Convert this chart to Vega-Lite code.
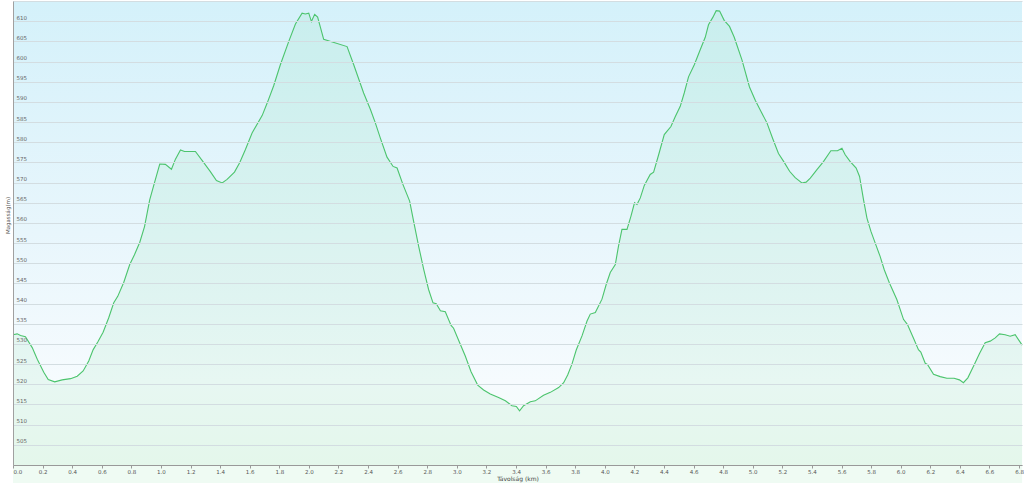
{
  "$schema": "https://vega.github.io/schema/vega-lite/v6.json",
  "width": 1009,
  "height": 464,
  "autosize": {"type": "none"},
  "padding": {"left": 13, "top": 1, "right": 2, "bottom": 18},
  "background": "#ffffff",
  "config": {"view": {"stroke": null}, "font": "DejaVu Sans"},
  "datasets": {
    "profile": [
      {"d": 0.0, "e": 532.3}, {"d": 0.028, "e": 532.5}, {"d": 0.051, "e": 532.1}, {"d": 0.084, "e": 531.8},
      {"d": 0.13, "e": 529.1}, {"d": 0.164, "e": 526.2}, {"d": 0.208, "e": 523.0}, {"d": 0.238, "e": 521.2},
      {"d": 0.282, "e": 520.6}, {"d": 0.332, "e": 521.1}, {"d": 0.389, "e": 521.4}, {"d": 0.434, "e": 522.0},
      {"d": 0.474, "e": 523.3}, {"d": 0.512, "e": 525.8}, {"d": 0.542, "e": 528.6}, {"d": 0.573, "e": 530.5},
      {"d": 0.609, "e": 532.9}, {"d": 0.647, "e": 536.5}, {"d": 0.681, "e": 540.2}, {"d": 0.708, "e": 541.8},
      {"d": 0.749, "e": 545.3}, {"d": 0.789, "e": 549.7}, {"d": 0.821, "e": 552.1}, {"d": 0.857, "e": 555.2},
      {"d": 0.889, "e": 559.1}, {"d": 0.924, "e": 565.7}, {"d": 0.956, "e": 569.9}, {"d": 0.992, "e": 574.6},
      {"d": 1.03, "e": 574.5}, {"d": 1.071, "e": 573.3}, {"d": 1.098, "e": 575.8}, {"d": 1.132, "e": 578.1},
      {"d": 1.159, "e": 577.7}, {"d": 1.233, "e": 577.7}, {"d": 1.278, "e": 575.5}, {"d": 1.334, "e": 572.7},
      {"d": 1.375, "e": 570.5}, {"d": 1.414, "e": 569.9}, {"d": 1.447, "e": 570.8}, {"d": 1.497, "e": 572.6},
      {"d": 1.532, "e": 574.9}, {"d": 1.571, "e": 578.2}, {"d": 1.616, "e": 582.3}, {"d": 1.684, "e": 586.6},
      {"d": 1.718, "e": 589.7}, {"d": 1.762, "e": 594.0}, {"d": 1.807, "e": 599.2}, {"d": 1.864, "e": 605.0},
      {"d": 1.909, "e": 609.3}, {"d": 1.954, "e": 612.0}, {"d": 1.976, "e": 611.8}, {"d": 1.999, "e": 612.0},
      {"d": 2.017, "e": 609.9}, {"d": 2.039, "e": 611.7}, {"d": 2.059, "e": 611.0}, {"d": 2.1, "e": 605.5},
      {"d": 2.258, "e": 603.7}, {"d": 2.303, "e": 599.2}, {"d": 2.37, "e": 592.2}, {"d": 2.416, "e": 588.1},
      {"d": 2.449, "e": 584.8}, {"d": 2.483, "e": 581.0}, {"d": 2.528, "e": 576.3}, {"d": 2.569, "e": 574.0},
      {"d": 2.596, "e": 573.6}, {"d": 2.636, "e": 569.5}, {"d": 2.681, "e": 565.4}, {"d": 2.708, "e": 560.4},
      {"d": 2.742, "e": 554.2}, {"d": 2.776, "e": 548.5}, {"d": 2.809, "e": 543.5}, {"d": 2.839, "e": 540.2},
      {"d": 2.861, "e": 540.0}, {"d": 2.889, "e": 538.2}, {"d": 2.922, "e": 538.0}, {"d": 2.961, "e": 534.6},
      {"d": 2.978, "e": 533.9}, {"d": 3.019, "e": 530.3}, {"d": 3.057, "e": 527.0}, {"d": 3.096, "e": 523.1},
      {"d": 3.141, "e": 519.8}, {"d": 3.181, "e": 518.6}, {"d": 3.226, "e": 517.6}, {"d": 3.282, "e": 516.7},
      {"d": 3.328, "e": 515.9}, {"d": 3.373, "e": 514.7}, {"d": 3.402, "e": 514.5}, {"d": 3.424, "e": 513.4},
      {"d": 3.451, "e": 514.7}, {"d": 3.497, "e": 515.7}, {"d": 3.53, "e": 515.9}, {"d": 3.586, "e": 517.3},
      {"d": 3.632, "e": 518.0}, {"d": 3.688, "e": 519.2}, {"d": 3.722, "e": 520.4}, {"d": 3.749, "e": 522.3},
      {"d": 3.778, "e": 525.0}, {"d": 3.807, "e": 528.5}, {"d": 3.846, "e": 532.0}, {"d": 3.88, "e": 535.7},
      {"d": 3.902, "e": 537.4}, {"d": 3.936, "e": 537.8}, {"d": 3.981, "e": 541.1}, {"d": 4.01, "e": 544.8},
      {"d": 4.037, "e": 547.7}, {"d": 4.071, "e": 549.7}, {"d": 4.093, "e": 554.3}, {"d": 4.116, "e": 558.4},
      {"d": 4.15, "e": 558.4}, {"d": 4.177, "e": 561.7}, {"d": 4.201, "e": 565.0}, {"d": 4.218, "e": 564.6},
      {"d": 4.24, "e": 566.2}, {"d": 4.267, "e": 569.3}, {"d": 4.307, "e": 572.0}, {"d": 4.33, "e": 572.6},
      {"d": 4.364, "e": 576.9}, {"d": 4.402, "e": 581.9}, {"d": 4.447, "e": 583.9}, {"d": 4.476, "e": 586.3},
      {"d": 4.51, "e": 588.9}, {"d": 4.537, "e": 592.2}, {"d": 4.566, "e": 596.2}, {"d": 4.605, "e": 599.2},
      {"d": 4.645, "e": 602.9}, {"d": 4.679, "e": 606.0}, {"d": 4.701, "e": 609.1}, {"d": 4.731, "e": 611.0},
      {"d": 4.753, "e": 612.6}, {"d": 4.776, "e": 612.5}, {"d": 4.807, "e": 610.2}, {"d": 4.843, "e": 608.7},
      {"d": 4.875, "e": 606.0}, {"d": 4.927, "e": 600.4}, {"d": 4.978, "e": 593.7}, {"d": 5.017, "e": 590.4},
      {"d": 5.055, "e": 587.7}, {"d": 5.096, "e": 584.8}, {"d": 5.136, "e": 580.8}, {"d": 5.174, "e": 577.2},
      {"d": 5.213, "e": 575.0}, {"d": 5.249, "e": 572.8}, {"d": 5.287, "e": 571.2}, {"d": 5.332, "e": 569.9},
      {"d": 5.361, "e": 570.1}, {"d": 5.389, "e": 571.1}, {"d": 5.434, "e": 573.2}, {"d": 5.478, "e": 575.2},
      {"d": 5.528, "e": 577.9}, {"d": 5.573, "e": 577.9}, {"d": 5.603, "e": 578.5}, {"d": 5.625, "e": 576.9},
      {"d": 5.659, "e": 575.2}, {"d": 5.699, "e": 573.6}, {"d": 5.722, "e": 571.5}, {"d": 5.749, "e": 565.7},
      {"d": 5.772, "e": 561.2}, {"d": 5.799, "e": 557.9}, {"d": 5.828, "e": 555.0}, {"d": 5.861, "e": 551.7},
      {"d": 5.889, "e": 548.4}, {"d": 5.924, "e": 545.1}, {"d": 5.974, "e": 541.0}, {"d": 6.019, "e": 536.1},
      {"d": 6.046, "e": 534.8}, {"d": 6.086, "e": 531.5}, {"d": 6.12, "e": 528.6}, {"d": 6.136, "e": 528.0},
      {"d": 6.166, "e": 525.2}, {"d": 6.181, "e": 524.9}, {"d": 6.222, "e": 522.5}, {"d": 6.267, "e": 521.9},
      {"d": 6.312, "e": 521.5}, {"d": 6.361, "e": 521.5}, {"d": 6.397, "e": 521.1}, {"d": 6.424, "e": 520.4},
      {"d": 6.454, "e": 521.6}, {"d": 6.492, "e": 524.5}, {"d": 6.532, "e": 527.6}, {"d": 6.571, "e": 530.3},
      {"d": 6.605, "e": 530.7}, {"d": 6.639, "e": 531.5}, {"d": 6.668, "e": 532.5}, {"d": 6.706, "e": 532.3},
      {"d": 6.74, "e": 531.9}, {"d": 6.774, "e": 532.3}, {"d": 6.821, "e": 529.7}
    ]
  },
  "layer": [
    {
      "data": {"values": [{}]},
      "mark": {
        "type": "rect",
        "color": {
          "gradient": "linear", "x1": 0, "y1": 0, "x2": 0, "y2": 1,
          "stops": [
            {"offset": 0, "color": "#d4f1fa"},
            {"offset": 0.5, "color": "#e8f6fc"},
            {"offset": 0.82, "color": "#f6fbfe"},
            {"offset": 1, "color": "#f3fbf7"}
          ]
        }
      },
      "encoding": {
        "x": {
          "datum": 0, "type": "quantitative",
          "scale": {"domain": [0, 6.82], "nice": false, "zero": false},
          "axis": {
            "values": [0,0.2,0.4,0.6,0.8,1,1.2,1.4,1.6,1.8,2,2.2,2.4,2.6,2.8,3,3.2,3.4,3.6,3.8,4,4.2,4.4,4.6,4.8,5,5.2,5.4,5.6,5.8,6,6.2,6.4,6.6,6.8],
            "format": ".1f", "grid": false, "tickSize": 3, "tickColor": "#999999", "domainColor": "#999999",
            "labelFontSize": 5.5, "labelPadding": 1, "labelColor": "#555555", "labelOverlap": false,
            "title": "Távolság (km)", "titleFontSize": 6, "titleFontWeight": "normal", "titleColor": "#444444",
            "titlePadding": 1, "zindex": 1
          }
        },
        "x2": {"datum": 6.82},
        "y": {
          "datum": 500, "type": "quantitative",
          "scale": {"domain": [500, 615], "nice": false, "zero": false},
          "axis": {
            "values": [500,505,510,515,520,525,530,535,540,545,550,555,560,565,570,575,580,585,590,595,600,605,610,615],
            "labelExpr": "datum.value == 500 || datum.value == 615 ? '' : datum.label",
            "grid": true, "gridColor": "#d3dde1", "gridWidth": 1, "domainColor": "#a0a0a0", "tickSize": 0,
            "labelAlign": "left", "labelBaseline": "bottom", "labelPadding": -3, "labelOffset": -1,
            "labelFontSize": 5.5, "labelColor": "#666666", "labelOverlap": false,
            "title": "Magasság(m)", "titleFontSize": 5.5, "titleFontWeight": "normal", "titleColor": "#555555",
            "titleX": -3, "titleY": 214, "zindex": 1
          }
        },
        "y2": {"datum": 615}
      }
    },
    {
      "data": {"name": "profile"},
      "mark": {"type": "area", "opacity": 0.1, "color": "#5ed68c"},
      "encoding": {
        "x": {
          "field": "d", "type": "quantitative",
          "scale": {"domain": [0, 6.82], "nice": false, "zero": false},
          "axis": {
            "values": [0,0.2,0.4,0.6,0.8,1,1.2,1.4,1.6,1.8,2,2.2,2.4,2.6,2.8,3,3.2,3.4,3.6,3.8,4,4.2,4.4,4.6,4.8,5,5.2,5.4,5.6,5.8,6,6.2,6.4,6.6,6.8],
            "format": ".1f", "grid": false, "tickSize": 3, "tickColor": "#999999", "domainColor": "#999999",
            "labelFontSize": 5.5, "labelPadding": 1, "labelColor": "#555555", "labelOverlap": false,
            "title": "Távolság (km)", "titleFontSize": 6, "titleFontWeight": "normal", "titleColor": "#444444",
            "titlePadding": 1, "zindex": 1
          }
        },
        "y": {
          "field": "e", "type": "quantitative",
          "scale": {"domain": [500, 615], "nice": false, "zero": false},
          "axis": {
            "values": [500,505,510,515,520,525,530,535,540,545,550,555,560,565,570,575,580,585,590,595,600,605,610,615],
            "labelExpr": "datum.value == 500 || datum.value == 615 ? '' : datum.label",
            "grid": true, "gridColor": "#d3dde1", "gridWidth": 1, "domainColor": "#a0a0a0", "tickSize": 0,
            "labelAlign": "left", "labelBaseline": "bottom", "labelPadding": -3, "labelOffset": -1,
            "labelFontSize": 5.5, "labelColor": "#666666", "labelOverlap": false,
            "title": "Magasság(m)", "titleFontSize": 5.5, "titleFontWeight": "normal", "titleColor": "#555555",
            "titleX": -3, "titleY": 214, "zindex": 1
          }
        }
      }
    },
    {
      "data": {"name": "profile"},
      "mark": {"type": "line", "color": "#4cc46d", "strokeWidth": 1.1},
      "encoding": {
        "x": {
          "field": "d", "type": "quantitative",
          "scale": {"domain": [0, 6.82], "nice": false, "zero": false},
          "axis": {
            "values": [0,0.2,0.4,0.6,0.8,1,1.2,1.4,1.6,1.8,2,2.2,2.4,2.6,2.8,3,3.2,3.4,3.6,3.8,4,4.2,4.4,4.6,4.8,5,5.2,5.4,5.6,5.8,6,6.2,6.4,6.6,6.8],
            "format": ".1f", "grid": false, "tickSize": 3, "tickColor": "#999999", "domainColor": "#999999",
            "labelFontSize": 5.5, "labelPadding": 1, "labelColor": "#555555", "labelOverlap": false,
            "title": "Távolság (km)", "titleFontSize": 6, "titleFontWeight": "normal", "titleColor": "#444444",
            "titlePadding": 1, "zindex": 1
          }
        },
        "y": {
          "field": "e", "type": "quantitative",
          "scale": {"domain": [500, 615], "nice": false, "zero": false},
          "axis": {
            "values": [500,505,510,515,520,525,530,535,540,545,550,555,560,565,570,575,580,585,590,595,600,605,610,615],
            "labelExpr": "datum.value == 500 || datum.value == 615 ? '' : datum.label",
            "grid": true, "gridColor": "#d3dde1", "gridWidth": 1, "domainColor": "#a0a0a0", "tickSize": 0,
            "labelAlign": "left", "labelBaseline": "bottom", "labelPadding": -3, "labelOffset": -1,
            "labelFontSize": 5.5, "labelColor": "#666666", "labelOverlap": false,
            "title": "Magasság(m)", "titleFontSize": 5.5, "titleFontWeight": "normal", "titleColor": "#555555",
            "titleX": -3, "titleY": 214, "zindex": 1
          }
        }
      }
    }
  ]
}
